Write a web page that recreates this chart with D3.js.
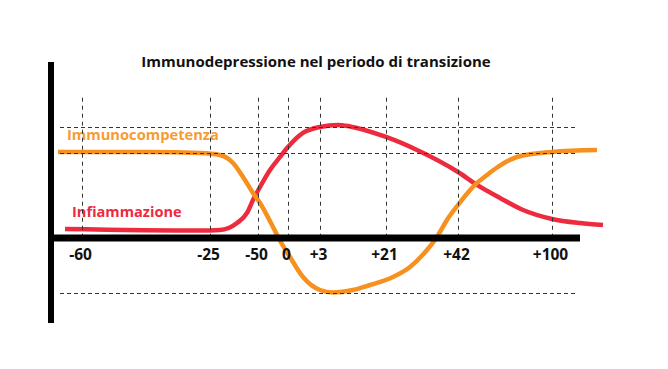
<!DOCTYPE html>
<html><head><meta charset="utf-8">
<script src="https://cdn.jsdelivr.net/npm/d3@7/dist/d3.min.js"></script>
<style>html,body{margin:0;padding:0;background:#fff;}svg{display:block;}</style>
</head><body>
<svg id="chart" width="668" height="369"></svg>
<script>
// ---- data ----
const title = "Immunodepressione nel periodo di transizione";
const tickLabels = ["-60", "-25", "-50", "0", "+3", "+21", "+42", "+100"];
const tickPositions = [6.8, 32.4, 42, 48, 54.4, 67.6, 82, 100.8];
const refLevels = [130, 100, -65];          // dashed horizontal reference levels
const gridTop = 165;                          // top of vertical dashed lines
const seriesNames = ["Immunocompetenza", "Infiammazione"];
const immunoX = [2, 20.4, 30.4, 34.4, 37, 39, 41, 42.4, 45, 46, 48.4, 51, 54.4, 57, 61, 64.4, 69, 72.4, 75.8, 77.8, 79.8, 82, 84, 85.8, 87.8, 89.8, 93.8, 100.8, 109.8];
const immunoY = [101.2, 101.2, 100, 97.6, 88.2, 71.8, 52.9, 41.2, 12.9, 1.2, -22.4, -45.9, -61.2, -64.1, -61.2, -55.3, -45.9, -34.1, -14.1, 1.2, 21.2, 38.8, 53.5, 64.7, 74.1, 82.9, 95.3, 101.2, 103.5];
const inflamX = [3.4, 30.4, 34.4, 37.8, 39.8, 41, 42.4, 44.4, 46.4, 48, 51, 54.4, 58, 60.4, 67.6, 73.8, 82, 85.8, 90.4, 95, 100.8, 106.4, 111];
const inflamY = [10.6, 8.8, 9.4, 17.6, 29.4, 44.7, 60, 80, 95.3, 107, 123.5, 130.6, 133, 131.2, 118.8, 103.5, 77.6, 62.4, 47, 32.9, 22.4, 17.6, 15.3];
const colors = {immuno: "#F7901E", inflam: "#EE2A3E"};

// ---- scales ----
const svg = d3.select("#chart");
const x = d3.scaleLinear().domain([0, 111]).range([48, 603]);
const y = d3.scaleLinear().domain([-100, 207]).range([323, 62]);
const xAxisEnd = 106.4, refStart = 2.4, refEnd = 106;

// title
svg.append("text").attr("x", 316).attr("y", 67).attr("text-anchor", "middle")
  .attr("font-family", "'Open Sans', sans-serif").attr("font-weight", 700)
  .attr("font-size", 15).attr("fill", "#111").text(title);

// series labels
svg.append("text").attr("x", x(3.8)).attr("y", y(115)).attr("font-family", "'Open Sans', sans-serif")
  .attr("font-weight", 700).attr("font-size", 14.7).attr("fill", "#F7941D").attr("opacity", 0.92)
  .text(seriesNames[0]);
svg.append("text").attr("x", x(4.8)).attr("y", y(24.7)).attr("font-family", "'Open Sans', sans-serif")
  .attr("font-weight", 700).attr("font-size", 14.6).attr("fill", "#EE2A3E")
  .text(seriesNames[1]);

// curves
const line = d3.line().x(d => x(d[0])).y(d => y(d[1])).curve(d3.curveMonotoneX);
svg.append("path").datum(inflamX.map((v, i) => [v, inflamY[i]]))
  .attr("d", line).attr("fill", "none").attr("stroke", colors.inflam)
  .attr("stroke-width", 4.5).attr("stroke-linecap", "butt");
svg.append("path").datum(immunoX.map((v, i) => [v, immunoY[i]]))
  .attr("d", line).attr("fill", "none").attr("stroke", colors.immuno)
  .attr("stroke-width", 4.5).attr("stroke-linecap", "butt");

// dashed reference lines
svg.append("g").selectAll("line").data(refLevels).join("line")
  .attr("x1", x(refStart)).attr("x2", x(refEnd))
  .attr("y1", d => Math.round(y(d)) + 0.5).attr("y2", d => Math.round(y(d)) + 0.5)
  .attr("stroke", "#333").attr("stroke-width", 1).attr("stroke-dasharray", "4,3");
svg.append("g").selectAll("line").data(tickPositions).join("line")
  .attr("x1", d => Math.round(x(d)) + 0.5).attr("x2", d => Math.round(x(d)) + 0.5)
  .attr("y1", y(gridTop)).attr("y2", y(0))
  .attr("stroke", "#333").attr("stroke-width", 1).attr("stroke-dasharray", "4,4");

// x axis (thick bar) with labels
const xAxis = d3.axisBottom(x).tickValues(tickPositions)
  .tickFormat((d, i) => tickLabels[i]).tickSize(0).tickPadding(11);
const gx = svg.append("g").attr("transform", `translate(0,${y(0)})`).call(xAxis);
gx.select(".domain").remove();
gx.selectAll("text").attr("font-family", "'Open Sans', sans-serif").attr("font-weight", 700)
  .attr("font-size", 15.5).attr("fill", "#111").attr("dx", -2);
svg.append("line").attr("x1", x(0)).attr("x2", x(xAxisEnd)).attr("y1", y(0)).attr("y2", y(0))
  .attr("stroke", "#000").attr("stroke-width", 7);

// y axis (thick bar)
svg.append("line").attr("x1", x(0) + 3).attr("x2", x(0) + 3).attr("y1", y(207)).attr("y2", y(-100))
  .attr("stroke", "#000").attr("stroke-width", 6);
</script>
</body></html>
